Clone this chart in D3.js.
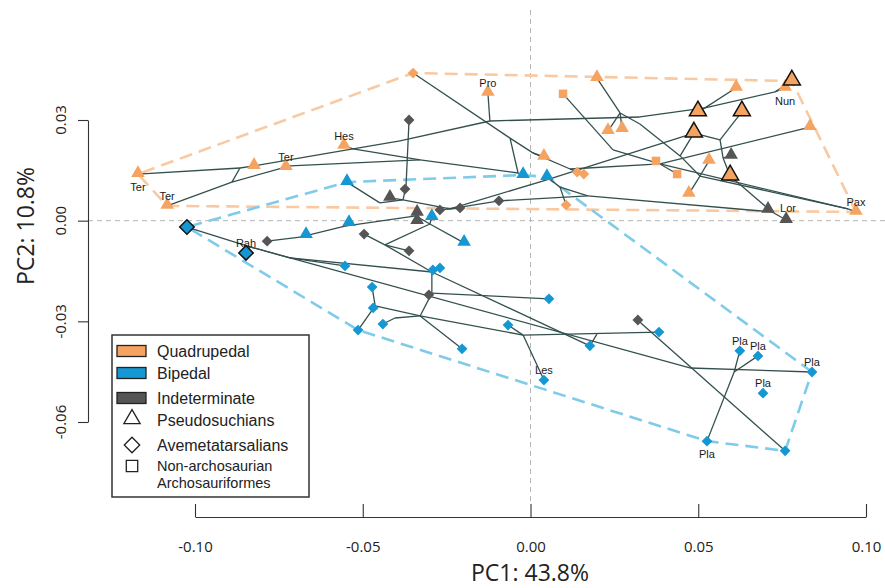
<!DOCTYPE html>
<html><head><meta charset="utf-8">
<script src="https://cdn.jsdelivr.net/npm/d3@7"></script>
<style>body{margin:0;background:#fff}svg{display:block}</style>
</head><body><svg id="c" width="885" height="588"></svg>
<script>
// ---- tips (PC1, PC2) ----
const tipX=[-0.1170,-0.1083,-0.0824,-0.0729,-0.0556,-0.0127,0.0198,0.0231,0.0273,0.0040,0.0613,0.0759,0.0833,0.0532,0.0472,0.0970,0.0779,0.0499,0.0630,0.0487,0.0595,0.0097,0.0374,0.0437,-0.0350,0.0139,0.0159,0.0106,
-0.0419,-0.0338,-0.0338,0.0598,0.0708,0.0762,
-0.0547,-0.0541,-0.0669,-0.0294,-0.0198,-0.0022,0.0049,
-0.0362,-0.0374,-0.0270,-0.0210,-0.0094,-0.0785,-0.0496,-0.0362,-0.0303,0.0320,
-0.1024,-0.0848,-0.0553,-0.0291,-0.0270,-0.0472,-0.0469,-0.0440,-0.0514,-0.0204,-0.0067,0.0055,0.0177,0.0383,0.0040,0.0624,0.0678,0.0839,0.0693,0.0526,0.0759];
const tipY=[0.0139,0.0044,0.0163,0.0160,0.0223,0.0381,0.0425,0.0267,0.0273,0.0190,0.0396,0.0396,0.0279,0.0178,0.0080,0.0026,0.0416,0.0324,0.0324,0.0261,0.0133,0.0378,0.0178,0.0139,0.0440,0.0145,0.0139,0.0047,
0.0068,0.0023,-0.0001,0.0193,0.0032,0.0002,
0.0115,-0.0007,-0.0043,0.0011,-0.0066,0.0136,0.0130,
0.0300,0.0094,0.0032,0.0038,0.0059,-0.0061,-0.0040,-0.0090,-0.0221,-0.0296,
-0.0019,-0.0096,-0.0135,-0.0147,-0.0141,-0.0198,-0.0260,-0.0308,-0.0326,-0.0382,-0.0311,-0.0233,-0.0373,-0.0332,-0.0475,-0.0388,-0.0403,-0.0451,-0.0514,-0.0657,-0.0686];
const tipHabit=[].concat(Array(28).fill("Quadrupedal"),Array(6).fill("Indeterminate"),Array(7).fill("Bipedal"),Array(10).fill("Indeterminate"),Array(21).fill("Bipedal"));
const tipClade=[].concat(Array(21).fill("Pseudosuchians"),Array(3).fill("Non-archosaurian Archosauriformes"),Array(4).fill("Avemetatarsalians"),Array(13).fill("Pseudosuchians"),Array(31).fill("Avemetatarsalians"));
const outlinedTips=[16,17,18,19,20,51,52];
const tipLabel={0:"Ter",1:"Ter",3:"Ter",4:"Hes",5:"Pro",11:"Nun",15:"Pax",32:"Lor",52:"Rah",65:"Les",66:"Pla",67:"Pla",68:"Pla",69:"Pla",70:"Pla"};
const labelSide={0:"below",11:"below",70:"below",32:"right"};

// ---- internal nodes of the phylogeny ----
const nodeName=["a1","a2","a3","a4","a5","a6","a7","a8","a11","c1","e1","f1","f2","f4","b1","b3","g2","g3","h1","h3","h4","h5","p1","l1","v1","v2","m1","m2","m3","m5","m6","m9","k1","k2","k3","k4","r1","r3","r5","r6","s1","s2","s3","s4","s7","s8","u1","p2"];
const nodeX=[-0.0866,-0.0890,-0.0717,-0.0529,-0.0389,-0.0121,0.0326,0.0520,-0.0329,0.0729,-0.0037,-0.0061,0.0007,0.0118,0.0267,0.0326,0.0246,0.0386,0.0446,0.0565,0.0574,0.0505,0.0946,0.0720,0.0088,0.0171,-0.0371,-0.0380,-0.0449,-0.0240,0.0046,-0.0300,-0.0687,-0.0553,-0.0341,-0.0434,-0.0836,0.0475,-0.0717,-0.0294,-0.0463,-0.0329,-0.0404,-0.0294,-0.0022,0.0198,0.0329,0.0607];
const nodeY=[0.0157,0.0115,0.0163,0.0214,0.0238,0.0297,0.0309,0.0336,0.0181,0.0384,0.0142,0.0246,0.0202,0.0154,0.0321,0.0288,0.0211,0.0169,0.0193,0.0241,0.0187,0.0133,0.0035,0.0026,0.0100,0.0074,0.0103,0.0062,0.0053,0.0035,0.0121,-0.0010,-0.0049,-0.0016,0.0014,-0.0072,-0.0078,-0.0439,-0.0111,-0.0153,-0.0254,-0.0284,-0.0290,-0.0216,-0.0341,-0.0338,-0.0305,-0.0451];
const edges=[["t0","a1"],["t1","a2"],["a2","a1"],["a1","t2"],["t2","a4"],["a4","t4"],["a4","a5"],["a5","a6"],["a6","t5"],["a6","a7"],["a7","a8"],["a8","t17"],["a8","c1"],["c1","t11"],["c1","t16"],["a8","t10"],["a2","a3"],["a3","t3"],["a3","a11"],["a4","a11"],["a11","e1"],["e1","t39"],
["t24","f1"],["f1","f2"],["f2","t9"],["f2","f4"],["f4","t25"],["f4","t26"],["f1","e1"],["f4","g3"],
["t21","g2"],["g2","g3"],["g3","t22"],["g3","t23"],["g3","t12"],["g3","p1"],["p1","t15"],
["t6","b1"],["b1","t8"],["b1","t7"],["b1","b3"],["b3","h1"],
["t19","h1"],["t19","h3"],["h3","t18"],["h3","h4"],["h4","t20"],["h4","t31"],["t13","h5"],["h5","t14"],["h5","p1"],["h1","h5"],
["l1","t32"],["l1","t33"],["t20","l1"],["t45","v2"],["v1","t40"],["v1","t27"],["v1","v2"],["v2","l1"],
["t41","m1"],["m1","t42"],["m1","m2"],["m2","t28"],["m2","m3"],["m3","t34"],["m2","m5"],["m5","t43"],["m5","t44"],["m5","m6"],["m6","t19"],["m5","t45"],
["k2","k3"],["k3","t29"],["k3","t30"],["k3","m9"],["k1","t46"],["k1","t36"],["k1","k2"],["k2","t35"],["m9","t37"],["m9","t38"],["k4","t47"],["k4","t48"],["k4","m9"],["k4","r6"],
["r1","t51"],["r1","t52"],["r1","r3"],["r3","t68"],["r1","r5"],["r5","t53"],["r5","r6"],
["r6","t54"],["r6","t55"],["r6","s4"],["r6","t63"],["s4","t49"],["s4","s2"],["s4","t62"],["s2","s1"],["s1","t56"],["s1","t57"],["s1","t59"],["s2","t60"],["s3","t58"],["s3","s2"],["s2","s7"],
["t61","s7"],["s7","t65"],["s7","t64"],["s8","t63"],["u1","t50"],["u1","t71"],["p2","t70"],["p2","t66"],["p2","t67"]];

const xTicks=[-0.10,-0.05,0.00,0.05,0.10];
const yTicks=[0.03,0.00,-0.03,-0.06];
const habits=["Quadrupedal","Bipedal","Indeterminate"];
const clades=["Pseudosuchians","Avemetatarsalians","Non-archosaurian Archosauriformes"];
const xTitle="PC1: 43.8%", yTitle="PC2: 10.8%";

// ---- styles ----
const habitColor={Quadrupedal:"#F4A460",Bipedal:"#1497D3",Indeterminate:"#555555"};
const hullColor={Quadrupedal:"#F9C9A2",Bipedal:"#7FCBEA"};
const cladeSymbol={"Pseudosuchians":d3.symbolTriangle,"Avemetatarsalians":d3.symbolSquare,"Non-archosaurian Archosauriformes":d3.symbolSquare};

const svg=d3.select("#c");
const x=d3.scaleLinear().domain([-0.10,0.10]).range([195,866]);
const y=d3.scaleLinear().domain([-0.06,0.03]).range([422,120]);
const AX="'Open Sans', 'Noto Sans', sans-serif";
const LG="'Liberation Sans', Arial, sans-serif";

// zero lines
svg.append("line").attr("x1",88).attr("x2",885).attr("y1",y(0)).attr("y2",y(0))
  .attr("stroke","#b5b5b5").attr("stroke-width",1).attr("stroke-dasharray","5,4");
svg.append("line").attr("x1",x(0)).attr("x2",x(0)).attr("y1",10).attr("y2",505)
  .attr("stroke","#b5b5b5").attr("stroke-width",1).attr("stroke-dasharray","5,4");

const tips=tipX.map((v,i)=>({i,x:v,y:tipY[i],habit:tipHabit[i],clade:tipClade[i],outlined:outlinedTips.includes(i)}));
const pos={};
tips.forEach(t=>pos["t"+t.i]=[x(t.x),y(t.y)]);
nodeName.forEach((n,i)=>pos[n]=[x(nodeX[i]),y(nodeY[i])]);

// convex hulls
["Quadrupedal","Bipedal"].forEach(h=>{
  const pts=tips.filter(t=>t.habit===h).map(t=>[x(t.x),y(t.y)]);
  const hull=d3.polygonHull(pts);
  svg.append("path").attr("d","M"+hull.join("L")+"Z").attr("fill","none")
    .attr("stroke",hullColor[h]).attr("stroke-width",2.6).attr("stroke-dasharray","13,7");
});

// tree edges
svg.append("g").selectAll("line").data(edges).join("line")
  .attr("x1",d=>pos[d[0]][0]).attr("y1",d=>pos[d[0]][1])
  .attr("x2",d=>pos[d[1]][0]).attr("y2",d=>pos[d[1]][1])
  .attr("stroke","#33504f").attr("stroke-width",1.3);

// tips
function symPath(t){
  let size;
  if(t.clade==="Pseudosuchians") size=t.outlined?125:80;
  else if(t.clade==="Avemetatarsalians") size=t.outlined?105:58;
  else size=72;
  return d3.symbol(cladeSymbol[t.clade],size)();
}
svg.append("g").selectAll("path").data(tips).join("path")
  .attr("d",symPath)
  .attr("transform",t=>{const r=t.clade==="Avemetatarsalians"?" rotate(45)":"";
      const dy=t.clade==="Pseudosuchians"?-1:0;
      return `translate(${x(t.x)},${y(t.y)+dy})${r}`;})
  .attr("fill",t=>habitColor[t.habit])
  .attr("stroke",t=>t.outlined?"#111":"none").attr("stroke-width",1.5);

// labels
svg.append("g").selectAll("text").data(Object.keys(tipLabel).map(Number)).join("text")
  .attr("x",i=>x(tipX[i])+(labelSide[i]==="right"?20:0))
  .attr("y",i=>y(tipY[i])+(labelSide[i]==="below"?13:labelSide[i]==="right"?-2:-10))
  .attr("text-anchor","middle").attr("dominant-baseline","central")
  .attr("font-family",LG).attr("font-size",11).attr("fill","#1a1a1a")
  .text(i=>tipLabel[i]);

// axes
const xa=svg.append("g").attr("transform","translate(0,517)")
  .call(d3.axisBottom(x).tickValues(xTicks).tickFormat(d=>d.toFixed(2)).tickSizeInner(-13).tickSizeOuter(0).tickPadding(24));
xa.selectAll("text").attr("font-family",AX).attr("font-size",15).attr("fill","#222");
xa.selectAll("line,path").attr("stroke","#333").attr("stroke-width",1.1);
const ya=svg.append("g").attr("transform","translate(88,0)")
  .call(d3.axisLeft(y).tickValues(yTicks).tickFormat("").tickSizeInner(10).tickSizeOuter(0));
ya.selectAll("line,path").attr("stroke","#333").attr("stroke-width",1.1);
svg.append("g").selectAll("text").data(yTicks).join("text")
  .attr("transform",d=>`translate(60,${y(d)}) rotate(-90)`)
  .attr("text-anchor","middle").attr("dominant-baseline","central")
  .attr("font-family",AX).attr("font-size",15).attr("fill","#222")
  .text(d=>d.toFixed(2));
svg.append("text").attr("x",530).attr("y",572).attr("text-anchor","middle").attr("dominant-baseline","central")
  .attr("font-family",AX).attr("font-size",23).attr("fill","#222").text(xTitle);
svg.append("text").attr("transform","translate(25,226) rotate(-90)").attr("text-anchor","middle").attr("dominant-baseline","central")
  .attr("font-family",AX).attr("font-size",23).attr("fill","#222").text(yTitle);

// legend
const lg=svg.append("g");
lg.append("rect").attr("x",112).attr("y",335).attr("width",197).attr("height",162)
  .attr("fill","#fff").attr("stroke","#333").attr("stroke-width",1.5);
const rowY=[351,373,398,420,445,466];
habits.forEach((h,i)=>{
  lg.append("rect").attr("x",117).attr("y",rowY[i]-5.5).attr("width",29).attr("height",11)
    .attr("fill",habitColor[h]).attr("stroke","#222").attr("stroke-width",1.3);
  lg.append("text").attr("x",157).attr("y",rowY[i]).attr("dominant-baseline","central")
    .attr("font-family",LG).attr("font-size",16).attr("fill","#222").text(h);
});
clades.forEach((c,i)=>{
  const cy=rowY[3+i];
  const size=c==="Pseudosuchians"?115:c==="Avemetatarsalians"?120:130;
  lg.append("path").attr("d",d3.symbol(cladeSymbol[c],size)())
    .attr("transform",`translate(132,${cy+(i===0?-1:0)})${i===1?" rotate(45)":""}`)
    .attr("fill","none").attr("stroke","#222").attr("stroke-width",1.3);
  if(i<2){
    lg.append("text").attr("x",157).attr("y",cy).attr("dominant-baseline","central")
      .attr("font-family",LG).attr("font-size",16).attr("fill","#222").text(c);
  } else {
    c.split(" ").forEach((p,j)=>lg.append("text").attr("x",157).attr("y",cy+j*16.8).attr("dominant-baseline","central")
      .attr("font-family",LG).attr("font-size",14.5).attr("fill","#222").text(p));
  }
});
</script></body></html>
